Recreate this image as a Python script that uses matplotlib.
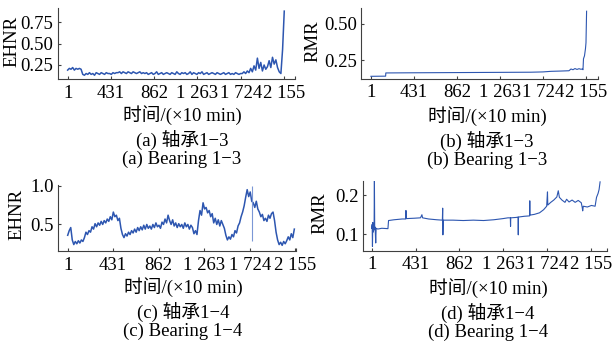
import matplotlib
matplotlib.use("Agg")
import matplotlib.pyplot as plt
from matplotlib.ticker import FixedLocator, FormatStrFormatter
import numpy as np

# ---- data ----
tick_pos = [1, 431, 862, 1293, 1724, 2155]
tick_lab = ["1", "431", "862", "1 263", "1 724", "2 155"]

# (a) EHNR, bearing 1-3 (evenly spaced samples from 1 to 2158)
ehnr_13 = [0.19, 0.21, 0.20, 0.22, 0.19, 0.21, 0.20, 0.21, 0.20,
           0.14, 0.13, 0.15, 0.14, 0.16, 0.14, 0.15, 0.13, 0.16, 0.15, 0.14, 0.16, 0.15,
           0.14, 0.16, 0.15, 0.15, 0.14, 0.16, 0.15, 0.16,
           0.16, 0.17, 0.15, 0.17, 0.16, 0.15, 0.17, 0.16, 0.15, 0.17, 0.16, 0.15, 0.16,
           0.17, 0.15, 0.16, 0.15, 0.16, 0.14,
           0.15, 0.16, 0.14, 0.15, 0.17, 0.14, 0.15, 0.16, 0.14, 0.15, 0.16, 0.15, 0.14,
           0.16, 0.15, 0.14, 0.17, 0.15, 0.14, 0.16, 0.15, 0.16, 0.14, 0.15, 0.17, 0.14,
           0.16, 0.15, 0.14, 0.16, 0.15, 0.17, 0.14, 0.15, 0.16, 0.14, 0.15, 0.16, 0.15,
           0.14, 0.16, 0.15, 0.14, 0.15, 0.16, 0.14, 0.15, 0.16, 0.14, 0.15, 0.14, 0.16,
           0.15, 0.14, 0.15,
           0.15, 0.17, 0.15, 0.18, 0.16, 0.21, 0.17, 0.24, 0.19, 0.33, 0.21, 0.28, 0.18,
           0.25, 0.20, 0.23, 0.30, 0.22, 0.34, 0.26, 0.31, 0.22, 0.17, 0.15, 0.43, 0.88]

# (b) RMR, bearing 1-3
rmr_13_t = [1, 148, 150, 400, 700, 1000, 1300, 1600, 1720, 1800, 1900, 1980, 2000,
            2020, 2040, 2060, 2080, 2100, 2113, 2120, 2125, 2135, 2145, 2150, 2156]
rmr_13 = [0.140, 0.141, 0.163, 0.164, 0.165, 0.166, 0.167, 0.168, 0.170, 0.174,
          0.176, 0.178, 0.190, 0.185, 0.193, 0.187, 0.192, 0.188, 0.190, 0.185,
          0.260, 0.280, 0.330, 0.370, 0.585]

# (c) EHNR, bearing 1-4 (evenly spaced samples from 1 to 2147)
ehnr_14 = [0.36, 0.42, 0.46, 0.30, 0.24, 0.28, 0.25, 0.29, 0.26, 0.30, 0.28, 0.33,
           0.40, 0.37, 0.42, 0.40, 0.47, 0.44, 0.51, 0.47, 0.52, 0.49, 0.54, 0.50,
           0.55, 0.52, 0.57, 0.54, 0.60, 0.56, 0.66, 0.60, 0.62, 0.55, 0.58, 0.45,
           0.37, 0.33, 0.38, 0.35, 0.40, 0.37, 0.42, 0.39, 0.44, 0.40, 0.46, 0.42,
           0.47, 0.43, 0.49, 0.44, 0.50, 0.45, 0.48, 0.44, 0.50, 0.46, 0.52, 0.47,
           0.49, 0.45, 0.53, 0.50, 0.57, 0.52, 0.62, 0.55, 0.50, 0.56, 0.48, 0.52,
           0.46, 0.51, 0.47, 0.50, 0.45, 0.52, 0.47, 0.50, 0.44, 0.49, 0.46, 0.38,
           0.42, 0.37, 0.55, 0.68, 0.62, 0.78, 0.70, 0.72, 0.65, 0.68, 0.60, 0.64,
           0.52, 0.58, 0.50, 0.56, 0.48, 0.55, 0.50, 0.45, 0.36, 0.30, 0.34, 0.31,
           0.37, 0.34, 0.42, 0.39, 0.48, 0.52, 0.60, 0.66, 0.74, 0.85, 0.95, 0.86,
           0.92, 0.80, 0.78, 0.72, 0.80, 0.70, 0.66, 0.60, 0.63, 0.55, 0.58, 0.54,
           0.62, 0.58, 0.64, 0.66, 0.55, 0.40, 0.30, 0.24, 0.27, 0.23, 0.28, 0.25,
           0.29, 0.34, 0.30, 0.38, 0.33, 0.44]
ehnr_14_spike_t = 1744
ehnr_14_spike = (0.28, 1.0)

# (d) RMR, bearing 1-4
rmr_14_t = [1, 5, 8, 11, 14, 18, 21, 24, 27, 30, 34, 40, 44, 60, 100, 160, 166, 220,
            300, 334, 337, 340, 420, 480, 494, 500, 560, 640, 695, 698, 700, 703, 800,
            900, 1000, 1100, 1200, 1291, 1340, 1363, 1365, 1367, 1420, 1439, 1441, 1443,
            1500, 1552, 1554, 1556, 1600, 1650, 1690, 1720, 1728, 1731, 1760, 1790,
            1820, 1834, 1845, 1870, 1900, 1916, 1940, 1970, 2000, 2030, 2060, 2070,
            2074, 2080, 2120, 2160, 2196, 2210, 2225, 2235, 2245]
rmr_14 = [0.115, 0.125, 0.068, 0.130, 0.105, 0.120, 0.110, 0.115, 0.238, 0.112,
          0.118, 0.077, 0.115, 0.113, 0.115, 0.114, 0.135, 0.137, 0.139, 0.139,
          0.161, 0.140, 0.141, 0.142, 0.150, 0.142, 0.139, 0.137, 0.136, 0.167,
          0.098, 0.136, 0.136, 0.135, 0.136, 0.135, 0.137, 0.140, 0.142, 0.142,
          0.120, 0.142, 0.143, 0.144, 0.098, 0.144, 0.146, 0.147, 0.186, 0.149,
          0.151, 0.155, 0.163, 0.172, 0.209, 0.175, 0.182, 0.188, 0.196, 0.212,
          0.195, 0.188, 0.182, 0.190, 0.183, 0.188, 0.182, 0.187, 0.181, 0.168,
          0.160, 0.172, 0.170, 0.174, 0.172, 0.195, 0.205, 0.215, 0.235]

LINE = "#2D56B0"
SPIKE = "#7B97D6"
AXC = "#404040"
FS = 13.5
LATIN = "Liberation Serif"
MIXED = ["Liberation Serif", "Noto Sans CJK SC"]

plt.rcParams["font.family"] = MIXED
plt.rcParams["font.size"] = FS

fig = plt.figure(figsize=(6.13, 3.45), dpi=100)
W, H = 613.0, 345.0


def make_axes(left, top, right, bottom):
    return fig.add_axes([left / W, 1 - bottom / H, (right - left) / W, (bottom - top) / H])


def style(ax, xlim, ylim, yticks, yfmt, ylabel, lab_xy):
    ax.set_xlim(*xlim)
    ax.set_ylim(*ylim)
    for s in ("top", "right"):
        ax.spines[s].set_visible(False)
    for s in ("left", "bottom"):
        ax.spines[s].set_color(AXC)
        ax.spines[s].set_linewidth(0.8)
    ax.xaxis.set_major_locator(FixedLocator(tick_pos))
    ax.set_xticklabels(tick_lab)
    ax.xaxis.set_minor_locator(FixedLocator([xlim[1]]))
    ax.set_yticks(yticks)
    ax.yaxis.set_major_formatter(FormatStrFormatter(yfmt))
    ax.tick_params(which="both", direction="in", color=AXC, width=0.8, length=2.5,
                   labelsize=FS)
    ax.tick_params(axis="x", pad=4)
    ax.tick_params(axis="y", pad=3)
    for lab in ax.get_xticklabels() + ax.get_yticklabels():
        lab.set_fontfamily(LATIN)
    ax.set_ylabel(ylabel, fontsize=FS, family=LATIN)
    ax.yaxis.set_label_coords(*lab_xy)


def captions(cx, y0, letter, name):
    fig.text(cx / W, 1 - y0 / H, "时间/(×10 min)", ha="center", va="center",
             fontsize=FS, family=MIXED)
    fig.text(cx / W, 1 - (y0 + 25) / H, "(%s) 轴承%s" % (letter, name), ha="center",
             va="center", fontsize=FS, family=MIXED)
    fig.text(cx / W, 1 - (y0 + 44) / H, "(%s) Bearing %s" % (letter, name), ha="center",
             va="center", fontsize=FS, family=LATIN)


# (a)
ax = make_axes(57.7, 7.7, 295, 79)
ax.plot(np.linspace(1, 2158, len(ehnr_13)), ehnr_13, color=LINE, lw=1.1)
style(ax, (-98, 2265), (0.086, 0.92), [0.25, 0.50, 0.75], "%.2f", "EHNR", (-0.159, 0.52))
captions(182, 115, "a", "1\u22123")

# (b)
ax = make_axes(361, 8, 598, 78.5)
ax.plot(rmr_13_t, rmr_13, color=LINE, lw=0.8)
style(ax, (-98, 2270), (0.125, 0.607), [0.25, 0.50], "%.2f", "RMR", (-0.165, 0.53))
captions(487, 116, "b", "1\u22123")

# (c)
ax = make_axes(58.3, 185, 295.7, 251.3)
ax.plot(np.linspace(1, 2147, len(ehnr_14)), ehnr_14, color=LINE, lw=1.1)
ax.vlines(ehnr_14_spike_t, *ehnr_14_spike, color=SPIKE, lw=0.8)
style(ax, (-88, 2160), (0.153, 1.01), [0.5, 1.0], "%.1f", "EHNR", (-0.14, 0.55))
captions(183, 287, "c", "1\u22124")

# (d)
ax = make_axes(362.7, 180.7, 606.7, 250.7)
ax.plot(rmr_14_t, rmr_14, color=LINE, lw=0.8)
style(ax, (-88, 2310), (0.057, 0.238), [0.1, 0.2], "%.1f", "RMR", (-0.142, 0.54))
captions(488, 288, "d", "1\u22124")

fig.savefig("out.png", dpi=100)
